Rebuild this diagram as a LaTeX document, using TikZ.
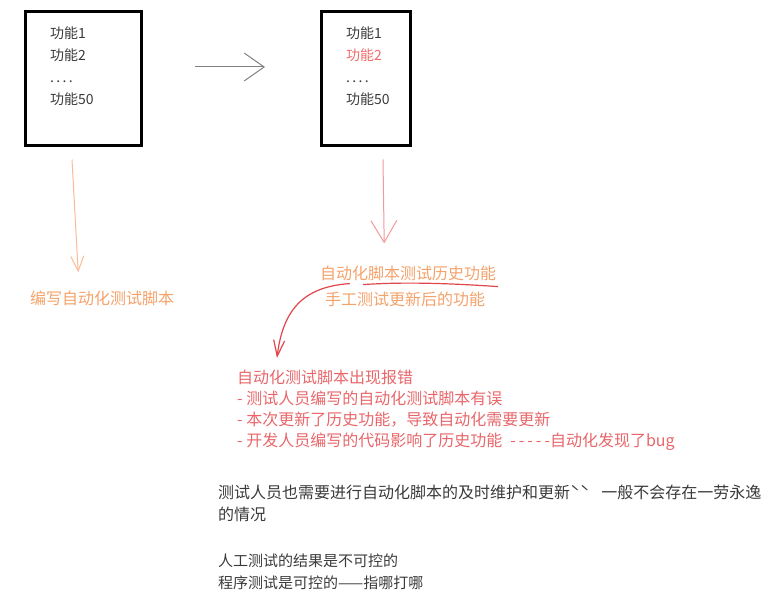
\documentclass[tikz,border=0pt]{standalone}
\usepackage{fontspec}
\setmainfont{Noto Sans CJK SC}
\usetikzlibrary{arrows.meta,positioning}
\definecolor{ink}{HTML}{3A3A3A}
\definecolor{featred}{HTML}{F06A6A}
\definecolor{notebrown}{HTML}{F4A26B}
\definecolor{arrowpeach}{HTML}{F9BB95}
\definecolor{arrowpink}{HTML}{F29A9A}
\definecolor{errred}{HTML}{E8666A}
\definecolor{strokered}{HTML}{E0474C}
\definecolor{arrowgray}{HTML}{808080}
\newcommand{\hy}{-\kern3pt}

\begin{document}
\begin{tikzpicture}[x=1pt,y=-1pt,
  funcbox/.style={draw=black,line width=3pt,minimum height=134pt,inner sep=0pt},
  funclist/.style={anchor=north west,align=left,inner sep=0pt,text=ink,font=\fontsize{14}{22}\selectfont},
  orangenote/.style={anchor=west,inner sep=0pt,text=notebrown,font=\fontsize{16}{20}\selectfont},
  textblock/.style={anchor=north west,align=left,inner sep=0pt,font=\fontsize{15}{22}\selectfont}]
\useasboundingbox (0,0) rectangle (778,601);

% the two feature boxes
\node[funcbox,minimum width=116pt] (oldbox) at (83.5,78.5) {};
\node[funcbox,minimum width=89pt] (newbox) at (366,78.5) {};
\node[funclist] (oldlist) at (50,27) {功能1\\功能2\\.\,.\,.\,.\\功能50};
\node[funclist] (newlist) at (346,27) {功能1\\\textcolor{featred}{功能2}\\.\,.\,.\,.\\功能50};

% notes under the boxes
\node[orangenote] (script) at (30,298) {编写自动化测试脚本};
\node[orangenote] (hist) at (320,273) {自动化脚本测试历史功能};
\node[orangenote] (manual) at (325,299) {手工测试更新后的功能};

\node[textblock,text=errred,font=\fontsize{16}{21}\selectfont] (error) at (237,370)
  {自动化测试脚本出现报错\\
   -\ 测试人员编写的自动化测试脚本有误\\
   -\ 本次更新了历史功能，导致自动化需要更新\\
   -\ 开发人员编写的代码影响了历史功能\hspace{8pt}\hy\hy\hy\hy-自动化发现了bug};

\node[textblock,text=ink,font=\fontsize{16}{22}\selectfont] (upkeep) at (218,485)
  {测试人员也需要进行自动化脚本的及时维护和更新ˋˋ\hspace{12pt}一般不会存在一劳永逸\\的情况};
\node[textblock,text=ink] (control) at (218,554)
  {人工测试的结果是不可控的\\程序测试是可控的——指哪打哪};

% connectors
\draw[arrowgray,line width=1pt,-{Straight Barb[length=20pt,width=28pt]}]
  ([xshift=52pt,yshift=11.5pt]oldbox.east) -- ([xshift=-55pt,yshift=11.5pt]newbox.west);
\draw[arrowpeach,line width=1pt,-{Straight Barb[length=15pt,width=13pt]}]
  ([xshift=-11.5pt,yshift=-12.5pt]oldbox.south) -- ([xshift=-24pt,yshift=18pt]script.north);
\draw[arrowpink,line width=1pt,-{Straight Barb[length=22pt,width=26pt]}]
  ([xshift=17pt,yshift=-12.5pt]newbox.south) -- ([xshift=-24pt,yshift=22pt]hist.north);
\draw[strokered,line width=1.2pt,-{Straight Barb[length=16pt,width=11pt]}]
  ([shift={(30,3)}]hist.south west) .. controls +(-45,3) and +(6,-50) .. ([shift={(40,-12)}]error.north west);
\draw[strokered,line width=1.2pt]
  ([shift={(43,4)}]hist.south west) .. controls +(45,-3) and +(-45,-3) .. ([shift={(178,6)}]hist.south west);
\end{tikzpicture}
\end{document}
